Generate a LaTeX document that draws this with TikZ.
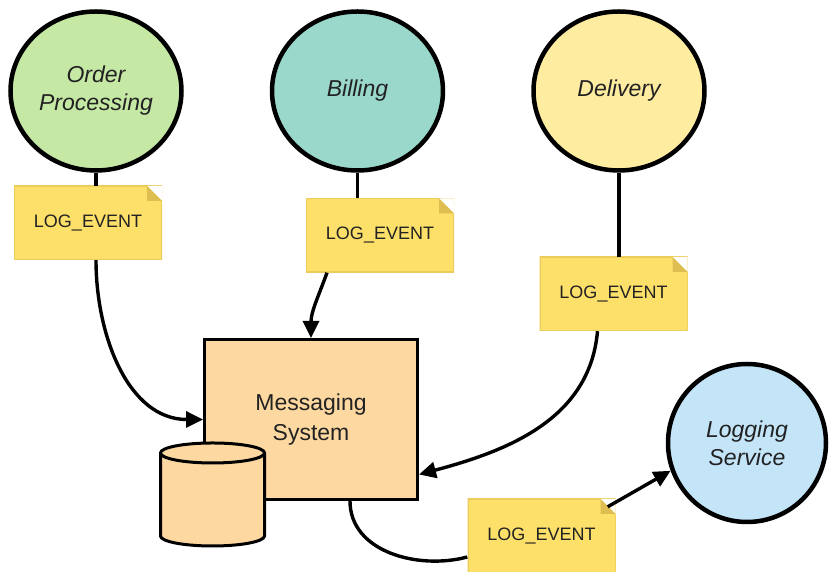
\documentclass[tikz,border=0pt]{standalone}
\usepackage{fontspec}
\setmainfont{Liberation Sans}
\usetikzlibrary{arrows.meta, positioning, shapes.geometric, calc}

\definecolor{orderc}{RGB}{197,232,165}
\definecolor{billc}{RGB}{154,216,204}
\definecolor{delivc}{RGB}{254,236,160}
\definecolor{logc}{RGB}{196,228,248}
\definecolor{msgc}{RGB}{253,217,161}
\definecolor{notec}{RGB}{253,224,106}
\definecolor{foldc}{RGB}{222,190,80}
\definecolor{noteedge}{RGB}{236,204,92}
\definecolor{txt}{RGB}{34,34,34}

\begin{document}
\begin{tikzpicture}[x=1pt, y=1pt,
    service/.style={draw, ellipse, line width=4.5pt, minimum width=171pt, minimum height=159pt, align=center, text=txt, font=\itshape\fontsize{23}{28}\selectfont},
    logevent/.style={minimum width=148pt, minimum height=74pt, fill=notec, text=txt, font=\fontsize{18}{20}\selectfont,
        path picture={
            \draw[noteedge, line width=2pt] (path picture bounding box.south west) rectangle (path picture bounding box.north east);
            \fill[white] ([xshift=-15pt]path picture bounding box.north east) -- (path picture bounding box.north east) -- ([yshift=-15pt]path picture bounding box.north east) -- cycle;
            \fill[foldc] ([xshift=-15pt]path picture bounding box.north east) -- ([xshift=-15pt,yshift=-15pt]path picture bounding box.north east) -- ([yshift=-15pt]path picture bounding box.north east) -- cycle;
        }},
    link/.style={line width=3.4pt},
    flow/.style={line width=3.4pt, -{Triangle[length=17pt,width=16pt]}}]
    \useasboundingbox (0,0) rectangle (831,572);

    % services
    \node[service, fill=orderc] (order) at (96,481) {Order\\Processing};
    \node[service, fill=billc, right=86pt of order] (billing) {Billing};
    \node[service, fill=delivc, right=86pt of billing] (delivery) {Delivery};
    \node[service, fill=logc, minimum width=158pt, minimum height=158pt] (logging) at (747,129) {Logging\\Service};

    % messaging system and its store
    \node[draw, fill=msgc, line width=3pt, minimum width=213pt, minimum height=160pt, align=center, text=txt, font=\fontsize{23}{30}\selectfont] (msg) at (311,152.5) {Messaging\\System};
    \node[draw, fill=msgc, cylinder, shape border rotate=90, aspect=3, line width=3pt, minimum width=104pt, minimum height=103pt] (db) at (212.5,70) {};

    % events
    \node[logevent] (n1) at (88,349) {LOG\_EVENT};
    \node[logevent] (n2) at (380,336.5) {LOG\_EVENT};
    \node[logevent] (n3) at (613.5,278) {LOG\_EVENT};
    \node[logevent] (n4) at (541.5,36) {LOG\_EVENT};

    \draw[link] (order.south) -- (order.south |- n1.north);
    \draw[flow] (order.south |- n1.south) to[out=-90, in=180] (msg.west);
    \draw[link] (billing.south) -- (billing.south |- n2.north);
    \draw[flow] ([xshift=-53pt]n2.south) to[out=-110, in=90] (msg.north);
    \draw[link] (delivery.south) -- (delivery.south |- n3.north);
    \draw[flow] ([xshift=-16pt]n3.south) to[out=-95, in=15] ([yshift=-55pt]msg.east);
    \draw[link] ([xshift=39pt]msg.south) to[out=-90, in=195] ([yshift=-21pt]n4.west);
    \draw[flow] ([xshift=-8pt,yshift=-8pt]n4.north east) -- (logging.200);
\end{tikzpicture}
\end{document}
